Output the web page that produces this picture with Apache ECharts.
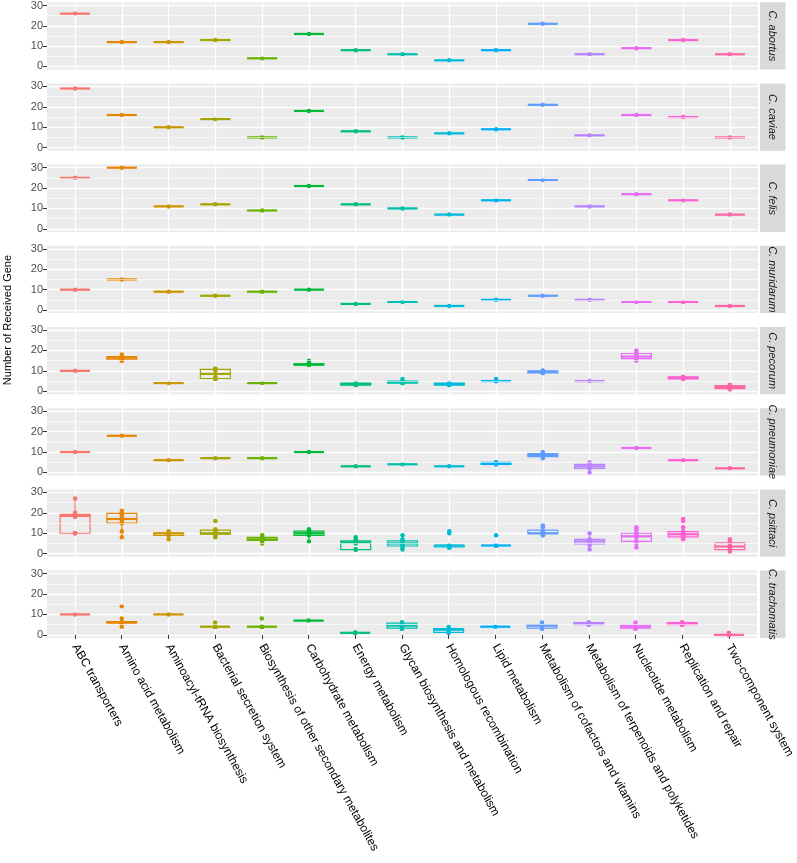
<!DOCTYPE html>
<html>
<head>
<meta charset="utf-8">
<script src="https://cdn.jsdelivr.net/npm/echarts@6/dist/echarts.min.js"></script>
<style>
html, body { margin: 0; padding: 0; background: #fff; }
#chart { width: 797px; height: 863px; }
</style>
</head>
<body>
<div id="chart"></div>
<script>
const categories = [
  'ABC transporters', 'Amino acid metabolism', 'Aminoacyl-tRNA biosynthesis',
  'Bacterial secretion system', 'Biosynthesis of other secondary metabolites',
  'Carbohydrate metabolism', 'Energy metabolism', 'Glycan biosynthesis and metabolism',
  'Homologous recombination', 'Lipid metabolism', 'Metabolism of cofactors and vitamins',
  'Metabolism of terpenoids and polyketides', 'Nucleotide metabolism',
  'Replication and repair', 'Two-component system'
]
const colors = [
  '#F8766D', '#E58700', '#C99800', '#A3A500', '#6BB100', '#00BA38', '#00BF7D', '#00C0AF',
  '#00BCD8', '#00B0F6', '#619CFF', '#B983FF', '#E76BF3', '#FD61D1', '#FF67A4'
]
const species = ['C. abortus', 'C. caviae', 'C. felis', 'C. muridarum', 'C. pecorum', 'C. pneumoniae', 'C. psittaci', 'C. trachomatis']

// gene counts per strain, one list per category
const abortus = [[26], [12], [12], [13], [4], [16], [8], [6], [3], [8], [21], [6], [9], [13], [6]]
const caviae = [[29], [16], [10], [14], [5], [18], [8], [5], [7], [9], [21], [6], [16], [15], [5]]
const felis = [[25], [30], [11], [12], [9], [21], [12], [10], [7], [14], [24], [11], [17], [14], [7]]
const muridarum = [[10], [15], [9], [7], [9], [10], [3], [4], [2], [5], [7], [5], [4], [4], [2]]
const pecorum = [
  [10], [15, 15, 16, 16, 17, 17, 17, 18], [4], [6, 6, 7, 10, 11, 11], [4],
  [13, 13, 13, 13, 13, 14, 15], [3, 3, 3, 4, 4, 4], [4, 4, 4, 5, 5, 6], [3, 3, 3, 4, 4, 4],
  [5, 5, 5, 5, 5, 6], [9, 9, 9, 10, 10, 10], [5], [15, 16, 16, 17, 18, 19, 20],
  [6, 6, 6, 7, 7, 7], [1, 1, 2, 2, 3, 3]
]
const pneumoniae = [[10], [18], [6], [7], [7], [10], [3], [4], [3], [4, 4, 5, 5], [7, 8, 9, 10], [0, 2, 3, 4, 5], [12], [6], [2]]
const psittaci = [
  [10, 10, 10, 18, 19, 19, 20, 27],
  [8, 11, 15, 15, 16, 18, 19, 20, 20, 21],
  [7, 9, 9, 10, 10, 10, 11],
  [8, 9, 10, 10, 11, 12, 16],
  [5, 6, 7, 7, 8, 8, 9],
  [6, 9, 9, 10, 11, 11, 12],
  [2, 2, 2, 5, 6, 6, 7, 8],
  [2, 3, 4, 5, 5, 6, 7, 9],
  [3, 3, 3, 4, 4, 4, 4, 4, 10, 11],
  [4, 4, 4, 4, 4, 9],
  [9, 9, 10, 10, 10, 11, 13, 14],
  [2, 4, 5, 6, 6, 7, 7, 10],
  [3, 5, 6, 6, 8, 9, 10, 10, 12, 13],
  [7, 8, 8, 8, 9, 9, 9, 10, 10, 10, 11, 13, 16, 17],
  [1, 2, 2, 3, 4, 5, 6, 7]
]
const trachomatis = [
  [10], [4, 6, 6, 6, 6, 6, 8, 14], [10], [4, 4, 4, 4, 4, 4, 4, 5, 6], [4, 4, 4, 4, 4, 4, 4, 8],
  [7], [1, 1, 1, 1], [3, 3, 4, 5, 6, 6], [1, 1, 2, 3, 3, 4], [4], [3, 3, 4, 5, 5, 6],
  [5, 5, 5, 6, 6, 6], [3, 3, 4, 4, 5, 6], [5, 5, 5, 6, 6, 6], [0, 0, 0, 0, 1]
]
const speciesData = [abortus, caviae, felis, muridarum, pecorum, pneumoniae, psittaci, trachomatis]
const yTicks = [0, 10, 20, 30]
const yMinor = [5, 15, 25]

const xTicks = categories.map((c, i) => i + 1)

// R type 7 quantile
const quantile = (arr, p) => {
  const s = [...arr].sort((a, b) => a - b)
  const h = (s.length - 1) * p
  const lo = Math.floor(h)
  const hi = Math.min(lo + 1, s.length - 1)
  return s[lo] + (h - lo) * (s[hi] - s[lo])
}
const boxStats = (vals, idx) => {
  const q1 = quantile(vals, 0.25)
  const med = quantile(vals, 0.5)
  const q3 = quantile(vals, 0.75)
  const iqr = q3 - q1
  const inside = vals.filter(v => v >= q1 - 1.5 * iqr && v <= q3 + 1.5 * iqr)
  return [idx + 1, Math.min(...inside), q1, med, q3, Math.max(...inside)]
}

const panelTop = 2.2
const panelStep = 81.2
const panelH = 67.3
const left = 47
const right = 39

const grid = []
const xAxis = []
const yAxis = []
const series = []
const graphic = []

speciesData.forEach((sp, g) => {
  const top = panelTop + g * panelStep
  const last = g === speciesData.length - 1
  grid.push({
    left: left, right: right, top: top, height: panelH,
    show: true, backgroundColor: '#EBEBEB', borderWidth: 0
  })
  xAxis.push({
    type: 'value', gridIndex: g, min: 0.4, max: 15.6,
    axisLine: { show: false },
    axisTick: { show: last, customValues: xTicks, length: 4, lineStyle: { color: '#333', width: 1 } },
    axisLabel: {
      show: last, customValues: xTicks, rotate: -61, margin: 7,
      color: '#000', fontSize: 12, fontFamily: 'Liberation Sans',
      formatter: v => categories[Math.round(v) - 1]
    },
    splitLine: { show: true, lineStyle: { color: '#fff', width: 1.3 } }
  })
  yAxis.push({
    type: 'value', gridIndex: g, min: -1.5, max: 31.5,
    axisLine: { show: false },
    axisTick: { show: true, customValues: yTicks, length: 4, lineStyle: { color: '#333', width: 1 } },
    axisLabel: { customValues: yTicks, color: '#4D4D4D', fontSize: 11, fontFamily: 'Liberation Sans', margin: 4 },
    splitLine: { show: true, lineStyle: { color: '#fff', width: 1.3 } }
  })
  // minor grid lines
  series.push({
    type: 'scatter', xAxisIndex: g, yAxisIndex: g, data: [], z: 1, silent: true,
    markLine: {
      silent: true, symbol: 'none', animation: false, label: { show: false },
      lineStyle: { color: '#fff', width: 0.6, type: 'solid' },
      data: yMinor.map(v => ({ yAxis: v }))
    }
  })
  series.push({
    type: 'custom', xAxisIndex: g, yAxisIndex: g, z: 2, animation: false,
    data: sp.map((vals, i) => boxStats(vals, i)),
    encode: { x: 0, y: [1, 2, 3, 4, 5] },
    renderItem: (params, api) => {
      const x = api.value(0)
      const c = colors[x - 1]
      const pLo = api.coord([x, api.value(1)])
      const pQ1 = api.coord([x, api.value(2)])
      const pMed = api.coord([x, api.value(3)])
      const pQ3 = api.coord([x, api.value(4)])
      const pHi = api.coord([x, api.value(5)])
      const half = api.size([0.64, 0])[0] / 2
      return {
        type: 'group',
        children: [
          { type: 'line', shape: { x1: pLo[0], y1: pLo[1], x2: pQ1[0], y2: pQ1[1] }, style: { stroke: c, lineWidth: 1.2 } },
          { type: 'line', shape: { x1: pHi[0], y1: pHi[1], x2: pQ3[0], y2: pQ3[1] }, style: { stroke: c, lineWidth: 1.2 } },
          { type: 'rect', shape: { x: pQ3[0] - half, y: pQ3[1], width: half * 2, height: pQ1[1] - pQ3[1] }, style: { fill: 'none', stroke: c, lineWidth: 1.2 } },
          { type: 'line', shape: { x1: pMed[0] - half, y1: pMed[1], x2: pMed[0] + half, y2: pMed[1] }, style: { stroke: c, lineWidth: 2.2 } }
        ]
      }
    }
  })
  const pts = []
  sp.forEach((vals, i) => vals.forEach(v => pts.push([i + 1, v])))
  series.push({
    type: 'scatter', xAxisIndex: g, yAxisIndex: g, z: 3, animation: false,
    symbolSize: 4.5, data: pts,
    itemStyle: { color: p => colors[p.value[0] - 1], opacity: 1 }
  })
  // facet strip
  graphic.push({
    type: 'rect', left: 760, top: top, silent: true,
    shape: { width: 25.5, height: panelH }, style: { fill: '#D9D9D9' }
  })
  graphic.push({
    type: 'text', x: 772.5, y: top + panelH / 2, rotation: -Math.PI / 2, silent: true,
    style: {
      text: species[g], fill: '#1A1A1A', fontSize: 11, fontStyle: 'italic',
      fontFamily: 'Liberation Sans', align: 'center', verticalAlign: 'middle'
    }
  })
})

graphic.push({
  type: 'text', x: 8, y: panelTop + (panelStep * 7 + panelH) / 2, rotation: Math.PI / 2, silent: true,
  style: {
    text: 'Number of Received Gene', fill: '#000', fontSize: 11,
    fontFamily: 'Liberation Sans', align: 'center', verticalAlign: 'middle'
  }
})

const myChart = echarts.init(document.getElementById('chart'))
myChart.setOption({
  animation: false,
  backgroundColor: '#fff',
  grid, xAxis, yAxis, series, graphic
})
</script>
</body>
</html>
